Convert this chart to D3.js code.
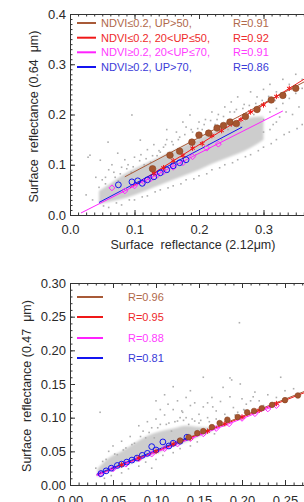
<!DOCTYPE html>
<html>
<head>
<meta charset="utf-8">
<script src="https://d3js.org/d3.v7.min.js"></script>
<style>
  body { margin: 0; background: #fff; }
  svg { display: block; }
  text { font-family: "Liberation Sans", Arial, sans-serif; fill: #2a2a2a; white-space: pre; }
  .axis path, .axis line { stroke: #333; }
</style>
</head>
<body>
<svg id="chart" width="304" height="502"></svg>
<script>
// ---------- top panel data (0.64 um vs 2.12 um) ----------
const topLegend = ["NDVI\u22640.2, UP>50,", "NDVI\u22640.2, 20<UP\u226450,", "NDVI\u22650.2, 20<UP\u226470,", "NDVI\u22650.2, UP>70,"];
const topR = ["R=0.91", "R=0.92", "R=0.91", "R=0.86"];
const topXTicks = [0.0, 0.1, 0.2, 0.3];
const topYTicks = [0.0, 0.1, 0.2, 0.3, 0.4];

// dense cloud of all pixels: x, lower edge, upper edge
const topCoreX     = [0.045, 0.06, 0.08, 0.10, 0.12, 0.14, 0.16, 0.18, 0.20, 0.22, 0.24, 0.26, 0.28, 0.30];
const topCoreLow   = [0.022, 0.026, 0.032, 0.040, 0.050, 0.060, 0.070, 0.080, 0.090, 0.102, 0.112, 0.122, 0.134, 0.15];
const topCoreHigh  = [0.048, 0.060, 0.078, 0.092, 0.104, 0.116, 0.128, 0.140, 0.152, 0.164, 0.176, 0.186, 0.194, 0.196];
const topGray = [
  [0.028,0.115],[0.031,0.119],[0.047,0.109],[0.059,0.145],[0.074,0.123],[0.096,0.199],[0.109,0.149],
  [0.040,0.075],[0.050,0.070],[0.060,0.090],[0.065,0.100],[0.070,0.075],[0.080,0.095],[0.085,0.110],
  [0.090,0.100],[0.100,0.115],[0.110,0.120],[0.120,0.130],[0.125,0.105],[0.130,0.140],[0.140,0.125],
  [0.150,0.150],[0.160,0.140],[0.165,0.165],[0.170,0.155],[0.180,0.175],[0.186,0.199],[0.190,0.165],
  [0.200,0.185],[0.210,0.190],[0.220,0.205],[0.230,0.200],[0.240,0.215],[0.250,0.225],[0.255,0.205],
  [0.260,0.235],[0.270,0.220],[0.280,0.245],[0.290,0.235],[0.300,0.250],[0.310,0.260],[0.320,0.245],
  [0.330,0.270],[0.340,0.260],[0.350,0.280],[0.360,0.270],[0.370,0.290],
  [0.060,0.015],[0.080,0.020],[0.100,0.030],[0.120,0.038],[0.140,0.050],[0.160,0.058],[0.180,0.070],
  [0.200,0.078],[0.220,0.090],[0.240,0.100],[0.260,0.110],[0.280,0.120],[0.300,0.135],[0.320,0.150],
  [0.340,0.165],[0.360,0.180],[0.380,0.200],
  [0.300,0.190],[0.310,0.205],[0.320,0.212],[0.330,0.222],[0.340,0.232],[0.350,0.242],[0.360,0.252],
  [0.370,0.262],[0.380,0.250],[0.390,0.272],[0.305,0.225],[0.315,0.180],[0.325,0.195],[0.335,0.205],
  [0.025,0.040],[0.035,0.030],[0.045,0.055],[0.055,0.062],[0.150,0.170],[0.175,0.185],[0.195,0.120],
  [0.215,0.140],[0.235,0.150],[0.245,0.170],[0.265,0.175],[0.275,0.195],[0.285,0.200],[0.295,0.215],
  [0.205,0.170],[0.225,0.180],[0.145,0.135],[0.135,0.118],[0.115,0.100],[0.095,0.085],[0.075,0.068],
  [0.170,0.130],[0.190,0.140],[0.210,0.160],[0.230,0.175],[0.250,0.190],[0.270,0.200],[0.290,0.205],
  [0.055,0.075],[0.068,0.085],[0.078,0.082],[0.088,0.092],[0.098,0.096],[0.108,0.108],[0.118,0.112],
  [0.128,0.118],[0.138,0.128],[0.148,0.140],[0.158,0.146],[0.168,0.150],[0.178,0.160],[0.188,0.170],
  [0.198,0.172],[0.208,0.180],[0.218,0.188],[0.228,0.190],[0.238,0.196],[0.248,0.205],[0.258,0.210],
  [0.268,0.212],[0.278,0.218],[0.288,0.222],[0.298,0.228],[0.308,0.236],[0.318,0.228],[0.328,0.240],
  [0.052,0.018],[0.072,0.024],[0.092,0.030],[0.112,0.036],[0.132,0.046],[0.152,0.054],[0.172,0.062],
  [0.192,0.072],[0.212,0.082],[0.232,0.094],[0.252,0.104],[0.272,0.116],[0.292,0.128],[0.312,0.142],
  [0.332,0.160],[0.352,0.172],[0.372,0.190],[0.310,0.170],[0.320,0.185],[0.300,0.165],[0.345,0.200],
  [0.355,0.215],[0.365,0.228],[0.375,0.240],[0.385,0.260],[0.395,0.285]
];

const topFits = [
  [[0.085, 0.076], [0.40, 0.290]],   // brown
  [[0.093, 0.054], [0.40, 0.300]],   // red
  [[0.017, 0.004], [0.330, 0.207]],  // magenta
  [[0.045, 0.025], [0.267, 0.175]]   // blue
];

const topBrownPts = [[0.128,0.092],[0.155,0.119],[0.170,0.127],[0.189,0.145],[0.200,0.159],[0.215,0.163],
  [0.228,0.173],[0.238,0.178],[0.248,0.185],[0.258,0.182],[0.272,0.196],[0.290,0.210],[0.312,0.229],
  [0.330,0.238],[0.350,0.252]];
const topRedPts = [[0.130,0.083],[0.145,0.094],[0.160,0.108],[0.175,0.118],[0.190,0.133],[0.205,0.142],
  [0.220,0.158],[0.235,0.168],[0.250,0.181],[0.265,0.190],[0.280,0.205],[0.300,0.219],[0.320,0.236],[0.340,0.252]];
const topMagPts = [[0.065,0.054],[0.085,0.048],[0.100,0.058],[0.115,0.066],[0.125,0.072],[0.135,0.079],
  [0.145,0.086],[0.160,0.095],[0.175,0.104],[0.190,0.116],[0.212,0.133],[0.230,0.141]];
const topBluePts = [[0.075,0.060],[0.096,0.066],[0.105,0.068],[0.112,0.063],[0.120,0.070],[0.130,0.076],
  [0.140,0.084],[0.150,0.090],[0.160,0.098],[0.170,0.104],[0.180,0.110]];

// ---------- bottom panel data (0.47 um vs 2.12 um) ----------
const botR = ["R=0.96", "R=0.95", "R=0.88", "R=0.81"];
const botXTicks = [0.00, 0.05, 0.10, 0.15, 0.20, 0.25, 0.30];
const botYTicks = [0.00, 0.05, 0.10, 0.15, 0.20, 0.25, 0.30];

const botCoreX    = [0.032, 0.045, 0.060, 0.075, 0.090, 0.105, 0.120, 0.135, 0.150, 0.165];
const botCoreLow  = [0.012, 0.020, 0.027, 0.034, 0.042, 0.049, 0.057, 0.064, 0.072, 0.080];
const botCoreHigh = [0.024, 0.040, 0.050, 0.062, 0.073, 0.080, 0.084, 0.088, 0.086, 0.085];
const botGray = [
  [0.035,0.108],[0.110,0.134],[0.114,0.120],[0.128,0.100],[0.188,0.156],[0.197,0.241],[0.186,0.159],
  [0.095,0.025],[0.210,0.125],[0.240,0.130],[0.045,0.050],[0.050,0.058],[0.060,0.065],[0.070,0.072],
  [0.080,0.088],[0.085,0.080],[0.090,0.094],[0.100,0.098],[0.105,0.090],[0.110,0.104],[0.120,0.112],
  [0.125,0.095],[0.130,0.110],[0.135,0.100],[0.140,0.118],[0.145,0.095],[0.150,0.105],[0.155,0.116],
  [0.160,0.100],[0.170,0.110],[0.175,0.124],[0.180,0.105],[0.190,0.115],[0.200,0.128],[0.205,0.120],
  [0.215,0.138],[0.220,0.125],[0.230,0.134],[0.250,0.140],[0.260,0.143],[0.165,0.130],[0.140,0.140],
  [0.120,0.146],[0.100,0.125],[0.155,0.160],[0.145,0.122],[0.160,0.122],[0.166,0.116],[0.186,0.131],
  [0.213,0.131],[0.203,0.111],[0.131,0.108],[0.040,0.010],[0.060,0.018],[0.080,0.028],[0.100,0.038],
  [0.120,0.048],[0.140,0.058],[0.055,0.045],[0.065,0.055],[0.075,0.062],[0.095,0.085],[0.115,0.092],
  [0.150,0.092],[0.170,0.098],[0.195,0.108],[0.225,0.118],[0.235,0.122],[0.030,0.025],[0.038,0.035],
  [0.178,0.145],[0.198,0.150],[0.245,0.160],[0.125,0.125],[0.135,0.130],[0.105,0.112],[0.088,0.070],
  [0.042,0.038],[0.052,0.046],[0.062,0.052],[0.072,0.060],[0.082,0.072],[0.092,0.078],[0.102,0.085],
  [0.112,0.090],[0.122,0.094],[0.132,0.096],[0.142,0.098],[0.152,0.096],[0.162,0.094],[0.172,0.092],
  [0.182,0.100],[0.192,0.104],[0.202,0.112],[0.048,0.014],[0.068,0.024],[0.088,0.034],[0.108,0.044],
  [0.128,0.054],[0.148,0.064],[0.168,0.076],[0.178,0.088],[0.118,0.080],[0.138,0.090],[0.098,0.070]
];

const botFits = [
  [[0.110, 0.056], [0.300, 0.153]],  // brown
  [[0.031, 0.015], [0.300, 0.151]],  // red
  [[0.031, 0.014], [0.241, 0.119]],  // magenta
  [[0.031, 0.016], [0.136, 0.070]]   // blue
];

const botBrownPts = [[0.128,0.066],[0.138,0.071],[0.148,0.077],[0.155,0.080],[0.165,0.086],[0.174,0.092],
  [0.183,0.097],[0.195,0.101],[0.206,0.108],[0.214,0.110],[0.223,0.114],[0.235,0.119],[0.250,0.126],[0.265,0.133]];
const botRedPts = [[0.060,0.030],[0.080,0.040],[0.100,0.050],[0.120,0.061],[0.140,0.070],[0.160,0.080],
  [0.180,0.091],[0.200,0.101],[0.220,0.111],[0.240,0.121]];
const botMagPts = [[0.035,0.016],[0.050,0.024],[0.065,0.031],[0.080,0.039],[0.095,0.046],[0.110,0.054],
  [0.125,0.061],[0.140,0.069],[0.155,0.076],[0.170,0.084],[0.185,0.091],[0.200,0.099],[0.215,0.106],
  [0.230,0.113],[0.240,0.118]];
const botBluePts = [[0.036,0.017],[0.042,0.021],[0.048,0.025],[0.055,0.029],[0.060,0.031],[0.066,0.034],
  [0.072,0.037],[0.078,0.040],[0.084,0.044],[0.090,0.047],[0.095,0.057],[0.100,0.052],[0.108,0.064],
  [0.115,0.058],[0.120,0.062],[0.128,0.065],[0.136,0.071]];

const lineColors = ["#a85a38", "#f01818", "#ff22ff", "#1414f0"];
const textColors = ["#b0684a", "#ee2a2a", "#ff3cff", "#3a3ad8"];

const svg = d3.select("#chart");
svg.append("rect").attr("width", 304).attr("height", 502).attr("fill", "#fff");

const defs = svg.append("defs");
defs.append("filter").attr("id", "soft")
  .attr("x", "-10%").attr("y", "-10%").attr("width", "120%").attr("height", "120%")
  .append("feGaussianBlur").attr("stdDeviation", 1.2);

function drawPanel(cfg) {
  const x = d3.scaleLinear().domain(cfg.xDomain).range([70, 328]);
  const y = d3.scaleLinear().domain(cfg.yDomain).range([cfg.bottom, cfg.top]);
  const g = svg.append("g");

  defs.append("clipPath").attr("id", cfg.id + "clip")
    .append("rect").attr("x", 70).attr("y", cfg.top).attr("width", 258).attr("height", cfg.bottom - cfg.top);
  const plot = g.append("g").attr("clip-path", "url(#" + cfg.id + "clip)");

  // gray cloud
  const core = cfg.coreX.map((d, i) => ({x: d, lo: cfg.coreLow[i], hi: cfg.coreHigh[i]}));
  plot.append("path")
    .datum(core)
    .attr("d", d3.area().curve(d3.curveMonotoneX).x(d => x(d.x)).y0(d => y(d.lo)).y1(d => y(d.hi)))
    .attr("fill", "#cdcdcd")
    .attr("filter", "url(#soft)");
  plot.selectAll(".gray")
    .data(cfg.gray)
    .enter().append("rect")
    .attr("class", "gray")
    .attr("x", d => x(d[0]) - 0.8).attr("y", d => y(d[1]) - 0.8)
    .attr("width", 1.6).attr("height", 1.6)
    .attr("fill", "#adadad");

  // fit lines
  plot.selectAll(".fit")
    .data(cfg.fits)
    .enter().append("line")
    .attr("class", "fit")
    .attr("x1", d => x(d[0][0])).attr("y1", d => y(d[0][1]))
    .attr("x2", d => x(d[1][0])).attr("y2", d => y(d[1][1]))
    .attr("stroke", (d, i) => lineColors[i])
    .attr("stroke-width", 1);

  // markers
  plot.selectAll(".mag")
    .data(cfg.magPts)
    .enter().append("path")
    .attr("transform", d => "translate(" + x(d[0]) + "," + y(d[1]) + ")")
    .attr("d", d3.symbol(d3.symbolDiamond2, 22))
    .attr("fill", "none").attr("stroke", lineColors[2]).attr("stroke-width", 1);
  plot.selectAll(".blue")
    .data(cfg.bluePts)
    .enter().append("circle")
    .attr("cx", d => x(d[0])).attr("cy", d => y(d[1])).attr("r", 2.9)
    .attr("fill", "none").attr("stroke", lineColors[3]).attr("stroke-width", 1);
  plot.selectAll(".red")
    .data(cfg.redPts)
    .enter().append("path")
    .attr("transform", d => "translate(" + x(d[0]) + "," + y(d[1]) + ")")
    .attr("d", d3.symbol(d3.symbolAsterisk, 20))
    .attr("fill", "none").attr("stroke", lineColors[1]).attr("stroke-width", 1);
  plot.selectAll(".brown")
    .data(cfg.brownPts)
    .enter().append("circle")
    .attr("cx", d => x(d[0])).attr("cy", d => y(d[1])).attr("r", cfg.brownR)
    .attr("fill", "#a5552f").attr("stroke", "#8a4424").attr("stroke-width", 0.6);

  // axes, ticks pointing inward like IDL
  const fmt = d3.format(cfg.fmt);
  g.append("g").attr("class", "axis").attr("transform", "translate(0," + cfg.bottom + ")")
    .call(d3.axisBottom(x).tickValues(d3.range(cfg.xDomain[0], cfg.xDomain[1] + 1e-9, cfg.xMinor)).tickSize(-2.5).tickFormat(""));
  g.append("g").attr("class", "axis").attr("transform", "translate(0," + cfg.bottom + ")")
    .call(d3.axisBottom(x).tickValues(cfg.xTicks).tickSize(-5).tickPadding(cfg.xPad).tickFormat(fmt))
    .call(a => a.selectAll("text").attr("font-size", 13).attr("fill", "#2a2a2a"));
  g.append("g").attr("class", "axis").attr("transform", "translate(0," + cfg.top + ")")
    .call(d3.axisTop(x).tickValues(d3.range(cfg.xDomain[0], cfg.xDomain[1] + 1e-9, cfg.xMinor)).tickSize(-2.5).tickFormat(""));
  g.append("g").attr("class", "axis").attr("transform", "translate(0," + cfg.top + ")")
    .call(d3.axisTop(x).tickValues(cfg.xTicks).tickSize(-5).tickFormat(""));
  g.append("g").attr("class", "axis").attr("transform", "translate(70,0)")
    .call(d3.axisLeft(y).tickValues(d3.range(cfg.yDomain[0], cfg.yDomain[1] + 1e-9, cfg.yMinor)).tickSize(-2.5).tickFormat(""));
  g.append("g").attr("class", "axis").attr("transform", "translate(70,0)")
    .call(d3.axisLeft(y).tickValues(cfg.yTicks).tickSize(-5).tickPadding(4).tickFormat(fmt))
    .call(a => a.selectAll("text").attr("font-size", 13).attr("fill", "#2a2a2a"));
  g.selectAll(".axis .domain").attr("stroke", "#333");

  // y title
  g.append("text")
    .attr("transform", "translate(" + cfg.yTitleX + "," + ((cfg.top + cfg.bottom) / 2 + 2) + ") rotate(-90)")
    .attr("text-anchor", "middle").attr("font-size", 12.5)
    .text(cfg.yTitle);

  // legend
  const leg = g.append("g");
  cfg.rows.forEach((ry, i) => {
    leg.append("line").attr("x1", 77).attr("x2", cfg.legEnd).attr("y1", ry).attr("y2", ry)
      .attr("stroke", lineColors[i]).attr("stroke-width", 2);
    if (cfg.labels) {
      leg.append("text").attr("x", 101).attr("y", ry + 4).attr("font-size", 11)
        .style("fill", textColors[i]).text(cfg.labels[i]);
    }
    leg.append("text").attr("x", cfg.rX).attr("y", ry + 4).attr("font-size", 11)
      .style("fill", textColors[i]).text(cfg.rText[i]);
  });
  return g;
}

drawPanel({
  id: "top", top: 14, bottom: 215,
  xDomain: [0, 0.4], yDomain: [0, 0.4],
  xTicks: topXTicks, yTicks: topYTicks, xMinor: 0.0125, yMinor: 0.01, fmt: ".1f", xPad: 10,
  coreX: topCoreX, coreLow: topCoreLow, coreHigh: topCoreHigh, gray: topGray,
  fits: topFits, brownPts: topBrownPts, redPts: topRedPts, magPts: topMagPts, bluePts: topBluePts, brownR: 3.3,
  yTitle: "Surface  reflectance (0.64  \u03bcm)", yTitleX: 38,
  rows: [23, 37.7, 52.3, 67], labels: topLegend, legEnd: 96, rX: 233, rText: topR
});

drawPanel({
  id: "bot", top: 283, bottom: 485,
  xDomain: [0, 0.3], yDomain: [0, 0.3],
  xTicks: botXTicks, yTicks: botYTicks, xMinor: 0.01, yMinor: 0.01, fmt: ".2f", xPad: 11,
  coreX: botCoreX, coreLow: botCoreLow, coreHigh: botCoreHigh, gray: botGray,
  fits: botFits, brownPts: botBrownPts, redPts: botRedPts, magPts: botMagPts, bluePts: botBluePts, brownR: 2.8,
  yTitle: "Surface  reflectance (0.47  \u03bcm)", yTitleX: 31,
  rows: [297, 317, 338, 358], labels: null, legEnd: 103, rX: 128, rText: botR
});

// x title of the upper panel
svg.append("text")
  .attr("x", 193).attr("y", 249)
  .attr("text-anchor", "middle").attr("font-size", 12.5)
  .text("Surface  reflectance (2.12\u03bcm)");
</script>
</body>
</html>
